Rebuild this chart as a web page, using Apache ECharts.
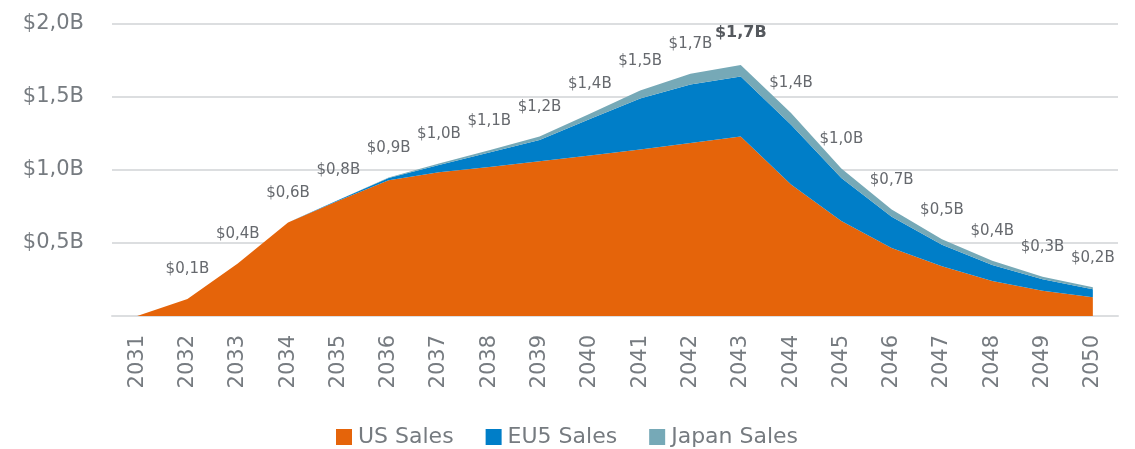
<!DOCTYPE html>
<html>
<head>
<meta charset="utf-8">
<script src="https://cdn.jsdelivr.net/npm/echarts@6/dist/echarts.min.js"></script>
<style>
  html, body { margin: 0; padding: 0; background: #ffffff; }
  #chart { width: 1135px; height: 449px; }
</style>
</head>
<body>
<div id="chart"></div>
<script>
// Sales forecast, billions of dollars, by region
const years = ['2031','2032','2033','2034','2035','2036','2037','2038','2039','2040',
               '2041','2042','2043','2044','2045','2046','2047','2048','2049','2050'];
const usSales    = [0, 0.116, 0.36, 0.64, 0.79, 0.93, 0.985, 1.02, 1.06, 1.10,
                    1.14, 1.185, 1.23, 0.90, 0.65, 0.465, 0.34, 0.24, 0.173, 0.128];
const eu5Sales   = [0, 0, 0, 0, 0.005, 0.015, 0.05, 0.10, 0.145, 0.25,
                    0.35, 0.40, 0.41, 0.41, 0.295, 0.215, 0.148, 0.11, 0.078, 0.055];
const japanSales = [0, 0, 0, 0, 0, 0.003, 0.01, 0.015, 0.025, 0.035,
                    0.055, 0.075, 0.08, 0.08, 0.065, 0.05, 0.037, 0.028, 0.018, 0.014];
const yTicks = [0, 0.5, 1.0, 1.5, 2.0];

const fmtB = v => '$' + v.toFixed(1).replace('.', ',') + 'B';
const totals = years.map((_, i) => usSales[i] + eu5Sales[i] + japanSales[i]);
const peakIndex = totals.indexOf(Math.max(...totals));

const FONT = '"DejaVu Sans", sans-serif';
const AXIS_GREY = '#767b80';
const LABEL_GREY = '#66696e';

// top series carries the total labels; the peak year is emphasised
const japanData = japanSales.map((v, i) => {
  const item = { value: v };
  if (i === peakIndex) {
    item.label = { fontWeight: 'bold', fontSize: 16, color: '#55595e', distance: 24 };
  }
  return item;
});

const baseSeries = {
  type: 'line',
  stack: 'sales',
  symbol: 'circle',
  symbolSize: 0,
  showSymbol: true,
  lineStyle: { width: 0 },
  emphasis: { disabled: true },
  silent: true
};

const chart = echarts.init(document.getElementById('chart'), null, { renderer: 'canvas' });
chart.setOption({
  animation: false,
  backgroundColor: '#ffffff',
  grid: { left: 112, right: 17, top: 24, bottom: 133, containLabel: false },
  legend: {
    left: 331,
    top: 420,
    itemWidth: 16,
    itemHeight: 16,
    itemGap: 32,
    icon: 'rect',
    textStyle: { fontFamily: FONT, fontSize: 22, lineHeight: 24, color: AXIS_GREY, padding: [0, 0, 0, 1] },
    data: ['US Sales', 'EU5 Sales', 'Japan Sales']
  },
  xAxis: {
    type: 'category',
    data: years,
    boundaryGap: true,
    axisLine: { show: true, lineStyle: { color: '#dcdee0', width: 2 } },
    axisTick: { show: false },
    axisLabel: {
      rotate: 90,
      margin: 19,
      fontFamily: FONT,
      fontSize: 21,
      color: AXIS_GREY,
      interval: 0
    }
  },
  yAxis: {
    type: 'value',
    min: yTicks[0],
    max: yTicks[yTicks.length - 1],
    interval: yTicks[1] - yTicks[0],
    axisLine: { show: false },
    axisTick: { show: false },
    splitLine: { lineStyle: { color: '#dcdee0', width: 2 } },
    axisLabel: {
      margin: 28,
      fontFamily: FONT,
      fontSize: 21,
      color: AXIS_GREY,
      formatter: v => (v === 0 ? '' : fmtB(v))
    }
  },
  series: [
    Object.assign({}, baseSeries, {
      name: 'US Sales',
      data: usSales,
      itemStyle: { color: '#e5640a' },
      areaStyle: { color: '#e5640a', opacity: 1 }
    }),
    Object.assign({}, baseSeries, {
      name: 'EU5 Sales',
      data: eu5Sales,
      itemStyle: { color: '#007ec8' },
      areaStyle: { color: '#007ec8', opacity: 1 }
    }),
    Object.assign({}, baseSeries, {
      name: 'Japan Sales',
      data: japanData,
      itemStyle: { color: '#76a9b7' },
      areaStyle: { color: '#76a9b7', opacity: 1 },
      label: {
        show: true,
        position: 'top',
        distance: 22,
        fontFamily: FONT,
        fontSize: 15,
        color: LABEL_GREY,
        formatter: p => (totals[p.dataIndex] > 0 ? fmtB(totals[p.dataIndex]) : '')
      }
    })
  ]
});
</script>
</body>
</html>
